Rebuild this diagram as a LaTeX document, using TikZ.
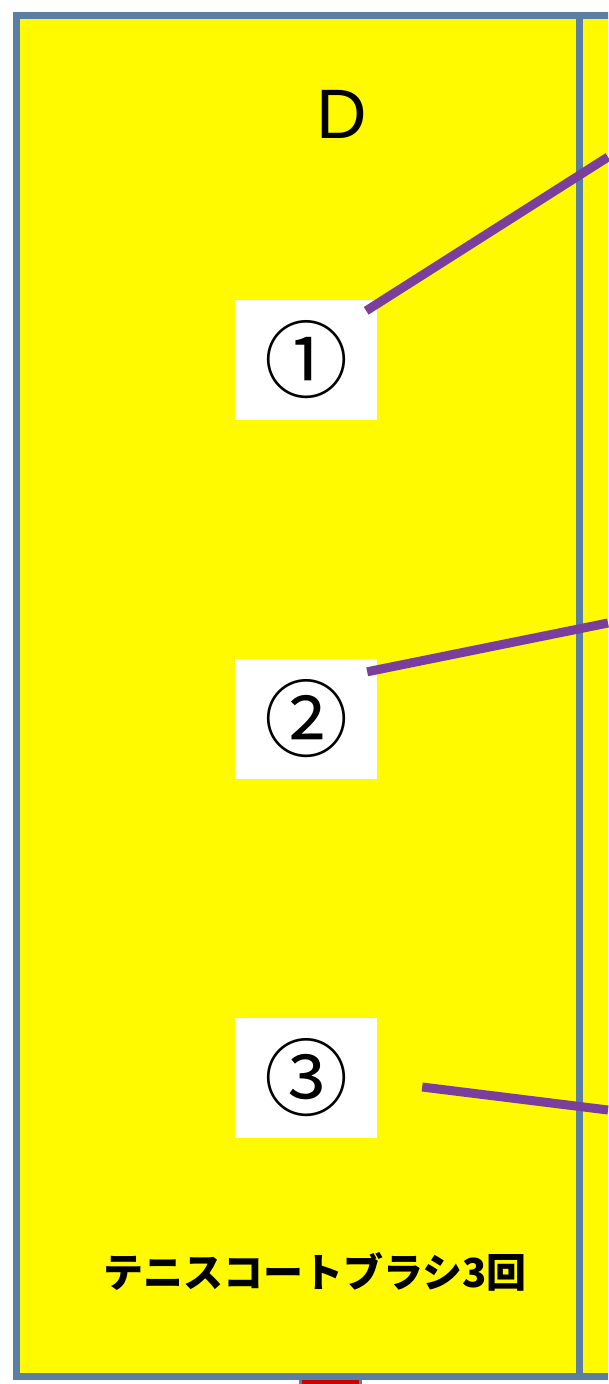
\documentclass[tikz,border=0pt]{standalone}
\usepackage{fontspec}
\setmainfont{Liberation Sans}
\newfontfamily\cjk{Noto Sans CJK JP}
\definecolor{courtyellow}{HTML}{FFFA00}
\definecolor{frameblue}{HTML}{5A7FA3}
\definecolor{linepurple}{HTML}{7A3E9D}
\begin{document}
\begin{tikzpicture}[x=1pt,y=-1pt,
  numbox/.style={fill=white,draw=none,minimum width=142pt,minimum height=120pt,inner sep=0pt,font=\cjk\fontsize{84}{84}\selectfont},
  leader/.style={draw=linepurple,line width=9pt,line cap=butt},
  frame/.style={draw=frameblue,line width=7pt}]
\useasboundingbox (0,0) rectangle (608,1384);
\begin{scope}
\clip (0,0) rectangle (608,1384);
% small shape below the court
\path[fill=red!80!black,draw=frameblue,line width=3pt] (300,1378) rectangle (360,1395);
% court
\path[fill=courtyellow] (16,15) rectangle (620,1376);
\draw[frame] (620,15) -- (16,15) -- (16,1376) -- (620,1376);
\draw[frame] (579,15) -- (579,1376);
\end{scope}
\node[font=\fontsize{70}{70}\selectfont] (d) at (342,114) {D};
\node[numbox] (b1) at (306,360) {①};
\node[numbox] (b2) at (306,719) {②};
\node[numbox] (b3) at (306,1078) {③};
\node[font=\cjk\bfseries\fontsize{40}{40}\selectfont] (t) at (315,1272) {テニスコートブラシ3回};
\coordinate (e1) at (608,157);
\coordinate (e2) at (608,623);
\coordinate (e3) at (608,1110);
\draw[leader] ([xshift=-11pt,yshift=-11pt]b1.north east) -- (e1);
\draw[leader] ([xshift=-10pt,yshift=-13pt]b2.north east) -- (e2);
\draw[leader] ([xshift=45pt,yshift=-9pt]b3.east) -- (e3);
\end{tikzpicture}
\end{document}
